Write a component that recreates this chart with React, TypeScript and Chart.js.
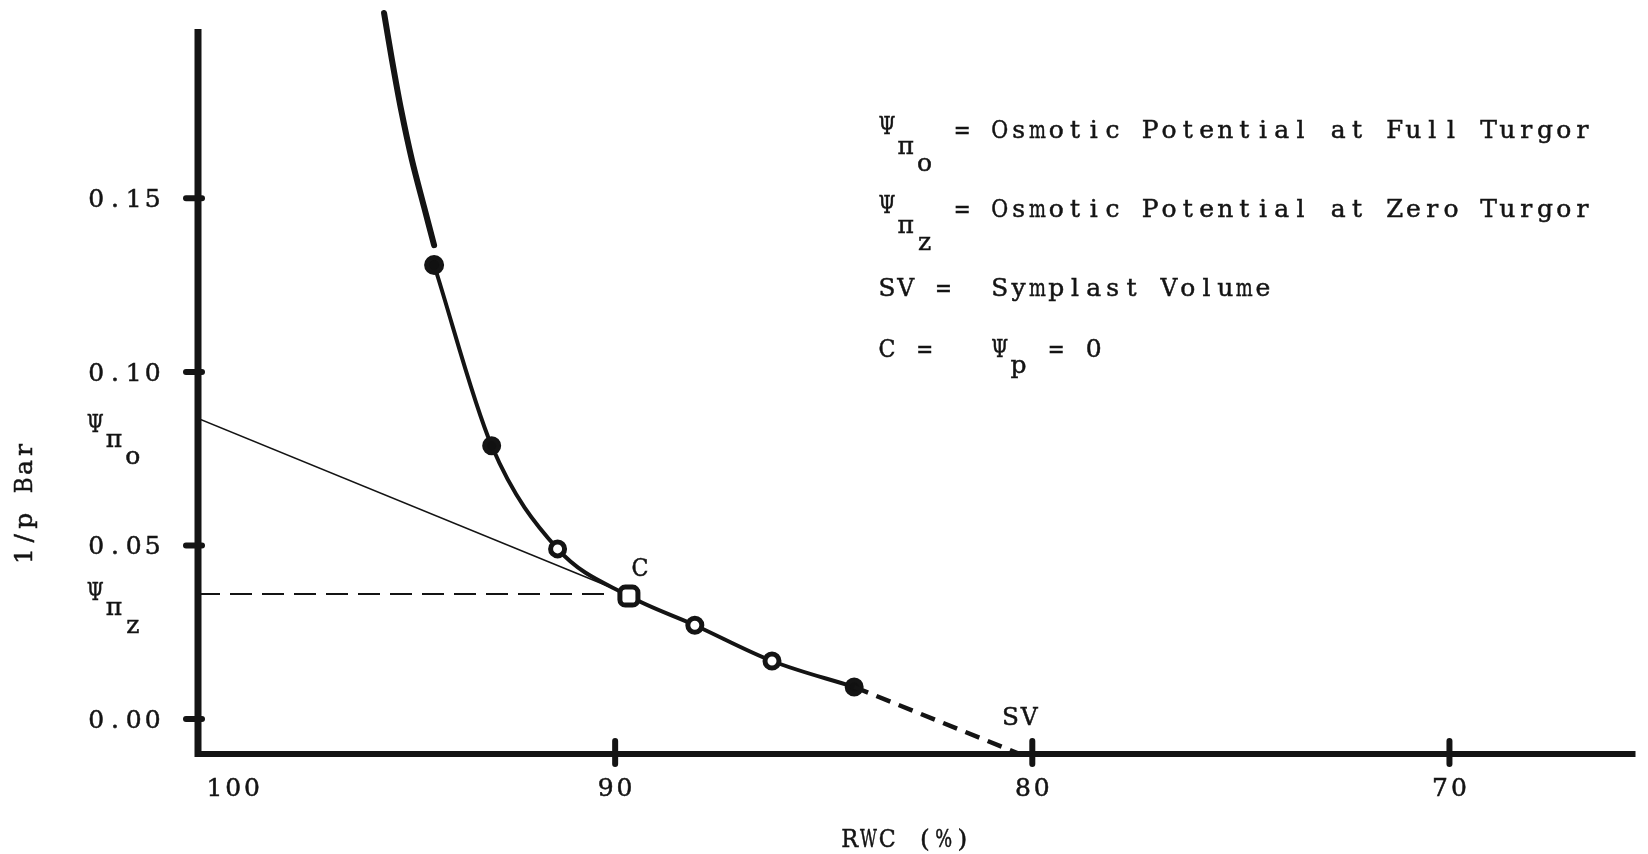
import { useEffect, useRef } from "react";
import { Chart, registerables } from "chart.js";

Chart.register(...registerables);

// Pressure–volume curve: relative water content (%) against 1/p (bar⁻¹)
const rwcTicks = [100, 90, 80, 70];
const invPTicks = [0, 0.05, 0.1, 0.15];
const invPTickLabels = ["0.00", "0.05", "0.10", "0.15"];

// measured points (open circles, C marks the turgor-loss point)
const rwc = [94.34, 92.96, 91.38, 89.67, 88.09, 86.24, 84.27];
const invP = [0.1308, 0.0787, 0.049, 0.0354, 0.027, 0.0167, 0.0092];
const pointFill = ["#111", "#111", "#fff", "#fff", "#fff", "#fff", "#111"];
const pointShape = ["circle", "circle", "circle", "rectRounded", "circle", "circle", "circle"];
const pointSize = [7.5, 7, 7, 10.5, 7, 7, 7];

// steep hand-drawn part of the curve above the first reading
const upperRwc = [95.54, 95.35, 95.13, 94.87, 94.58, 94.34];
const upperInvP = [0.2034, 0.1899, 0.1755, 0.161, 0.1475, 0.1365];

// linear part extended back to full turgor (Ψπo) and forward to SV
const tangentRwc = [100, 89.93];
const tangentInvP = [0.0866, 0.0371];
const zeroTurgorRwc = [100, 90.05];
const zeroTurgorInvP = [0.036, 0.036];
const extrapRwc = [84.27, 80.3];
const extrapInvP = [0.0092, -0.0101];

// where the Ψ labels sit on the 1/p axis
const psiOAt = 0.085;
const psiZAt = 0.0365;

const X_MIN = 65.54;
const X_MAX = 100;
const Y_MIN = -0.0101;
const Y_MAX = 0.1988;

const FONT = '"DejaVu Serif", "Liberation Serif", serif';
const CELL = 18.8;
const SIZE = 25;
const INK = "#141414";

type Seg = { t: string; dy: number };

// typewriter-style text: every character in a fixed-width cell
function typeLine(ctx: CanvasRenderingContext2D, segs: Seg[], x0: number, base: number, size = SIZE, cell = CELL) {
  ctx.save();
  ctx.font = `${size}px ${FONT}`;
  ctx.fillStyle = INK;
  ctx.strokeStyle = INK;
  ctx.lineWidth = 0.5;
  ctx.textAlign = "center";
  ctx.textBaseline = "alphabetic";
  let i = 0;
  for (const s of segs) {
    for (const ch of Array.from(s.t)) {
      if (ch !== " ") {
        const w = ctx.measureText(ch).width;
        const maxW = cell * 0.9;
        const sx = w > maxW ? maxW / w : 1;
        ctx.save();
        ctx.translate(x0 + (i + 0.5) * cell, base + s.dy);
        ctx.scale(sx, 1);
        ctx.fillText(ch, 0, 0);
        ctx.strokeText(ch, 0, 0);
        ctx.restore();
      }
      i++;
    }
  }
  ctx.restore();
}

const txt = (t: string): Seg[] => [{ t, dy: 0 }];

const paperPlugin = {
  id: "paper",
  beforeDraw(chart: any) {
    const { ctx, width, height } = chart;
    ctx.save();
    ctx.fillStyle = "#fff";
    ctx.fillRect(0, 0, width, height);
    ctx.restore();
  },
  afterDraw(chart: any) {
    const { ctx } = chart;
    const xs = chart.scales.x;
    const ys = chart.scales.y;
    const ax = xs.getPixelForValue(X_MAX);
    const ay = ys.getPixelForValue(Y_MIN);
    const top = ys.getPixelForValue(Y_MAX);
    const right = xs.getPixelForValue(X_MIN);

    ctx.save();
    ctx.strokeStyle = INK;
    ctx.lineCap = "butt";
    // axes
    ctx.lineWidth = 7;
    ctx.beginPath();
    ctx.moveTo(ax, top);
    ctx.lineTo(ax, ay + 3);
    ctx.stroke();
    ctx.lineWidth = 6;
    ctx.beginPath();
    ctx.moveTo(ax - 3, ay);
    ctx.lineTo(right, ay);
    ctx.stroke();
    // tick marks
    ctx.lineCap = "round";
    ctx.lineWidth = 6;
    for (const v of invPTicks) {
      const py = ys.getPixelForValue(v);
      ctx.beginPath();
      ctx.moveTo(ax - 12, py);
      ctx.lineTo(ax + 4, py);
      ctx.stroke();
    }
    for (const v of rwcTicks) {
      if (v === X_MAX) continue;
      const px = xs.getPixelForValue(v);
      ctx.beginPath();
      ctx.moveTo(px, ay - 13);
      ctx.lineTo(px, ay + 10);
      ctx.stroke();
    }
    ctx.restore();

    // 1/p tick labels
    invPTicks.forEach((v, k) => {
      const py = ys.getPixelForValue(v);
      const label = invPTickLabels[k];
      typeLine(ctx, txt(label), ax - 36 - label.length * CELL, py + 9);
    });
    // Ψπo and Ψπz beside the axis
    const yO = ys.getPixelForValue(psiOAt);
    typeLine(ctx, [{ t: "Ψ", dy: 8 }, { t: "π", dy: 23 }, { t: "o", dy: 40 }], 85.8, yO);
    const yZ = ys.getPixelForValue(psiZAt);
    typeLine(ctx, [{ t: "Ψ", dy: 8 }, { t: "π", dy: 23 }, { t: "z", dy: 41 }], 85.8, yZ);

    // RWC tick labels
    rwcTicks.forEach((v) => {
      const label = String(v);
      const px = xs.getPixelForValue(v);
      const x0 = v === X_MAX ? px + 7 : px - (label.length * CELL) / 2;
      typeLine(ctx, txt(label), x0, ay + 42);
    });

    // axis titles
    typeLine(ctx, txt("RWC (%)"), 906 - 3.5 * CELL, 847);
    ctx.save();
    ctx.translate(32, 503);
    ctx.rotate(-Math.PI / 2);
    typeLine(ctx, txt("1/p Bar"), -3.5 * 17.7, 0, SIZE, 17.7);
    ctx.restore();

    // point annotations
    const cx = xs.getPixelForValue(rwc[3]);
    const cy = ys.getPixelForValue(invP[3]);
    typeLine(ctx, txt("C"), cx + 11 - CELL / 2, cy - 20);
    const sx = xs.getPixelForValue(extrapRwc[1]);
    typeLine(ctx, txt("SV"), sx - CELL, ay - 29);

    // key
    const kx = 877.6;
    typeLine(ctx, [{ t: "Ψ", dy: -4 }, { t: "π", dy: 16 }, { t: "o", dy: 33 }, { t: " = Osmotic Potential at Full Turgor", dy: 0 }], kx, 138);
    typeLine(ctx, [{ t: "Ψ", dy: -4 }, { t: "π", dy: 16 }, { t: "z", dy: 33 }, { t: " = Osmotic Potential at Zero Turgor", dy: 0 }], kx, 217);
    typeLine(ctx, txt("SV =  Symplast Volume"), kx, 296);
    typeLine(ctx, [{ t: "C =   Ψ", dy: 0 }, { t: "p", dy: 16 }, { t: " = 0", dy: 0 }], kx, 357);
  },
};

export default function App() {
  const ref = useRef<HTMLCanvasElement | null>(null);

  useEffect(() => {
    document.body.style.margin = "0";
    const canvas = ref.current;
    if (!canvas) return;
    const pts = (xs: number[], ys: number[]) => xs.map((x, i) => ({ x, y: ys[i] }));

    const chart = new Chart(canvas, {
      type: "scatter",
      data: {
        datasets: [
          {
            label: "upper",
            data: pts(upperRwc, upperInvP),
            showLine: true,
            borderColor: INK,
            borderWidth: 6,
            pointRadius: 0,
            tension: 0.3,
            borderCapStyle: "round",
            clip: false,
          } as any,
          {
            label: "tangent",
            data: pts(tangentRwc, tangentInvP),
            showLine: true,
            borderColor: INK,
            borderWidth: 1.6,
            pointRadius: 0,
          },
          {
            label: "zero turgor",
            data: pts(zeroTurgorRwc, zeroTurgorInvP),
            showLine: true,
            borderColor: INK,
            borderWidth: 2,
            borderDash: [22, 10],
            pointRadius: 0,
          },
          {
            label: "extrapolation",
            data: pts(extrapRwc, extrapInvP),
            showLine: true,
            borderColor: INK,
            borderWidth: 4.5,
            borderDash: [15, 9],
            pointRadius: 0,
            clip: false,
          } as any,
          {
            label: "1/p",
            data: pts(rwc, invP),
            showLine: true,
            borderColor: INK,
            borderWidth: 4,
            cubicInterpolationMode: "monotone",
            pointStyle: pointShape as any,
            pointRadius: pointSize,
            pointBorderWidth: 5,
            pointBorderColor: INK,
            pointBackgroundColor: pointFill,
            clip: false,
          } as any,
        ],
      },
      options: {
        animation: false,
        responsive: false,
        devicePixelRatio: 1,
        events: [],
        layout: { padding: { left: 198, right: 6, top: 29, bottom: 100 } },
        plugins: { legend: { display: false }, tooltip: { enabled: false } },
        scales: {
          x: { type: "linear", reverse: true, min: X_MIN, max: X_MAX, display: false },
          y: { type: "linear", min: Y_MIN, max: Y_MAX, display: false },
        },
      },
      plugins: [paperPlugin],
    });
    return () => chart.destroy();
  }, []);

  return (
    <div style={{ position: "fixed", left: 0, top: 0, width: 1648, height: 854, background: "#fff" }}>
      <canvas ref={ref} width={1648} height={854} style={{ width: 1648, height: 854, display: "block" }} />
    </div>
  );
}
